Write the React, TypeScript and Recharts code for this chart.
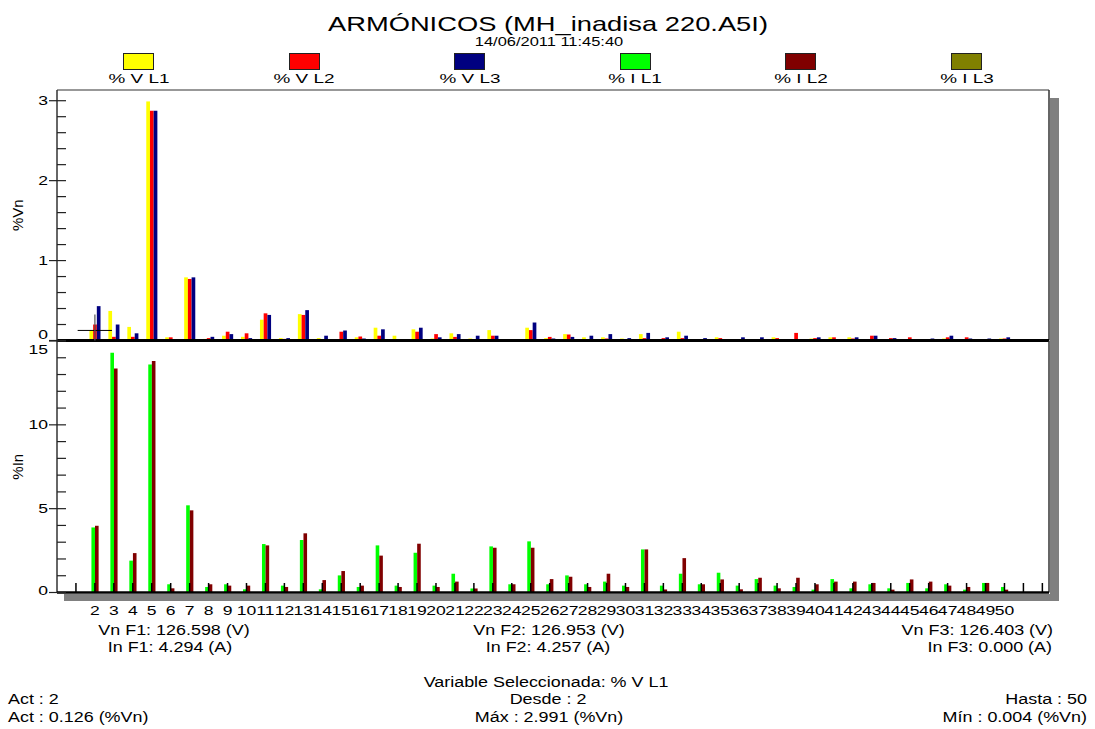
import { BarChart, Bar, XAxis, YAxis, ReferenceLine } from "recharts";

// harmonic orders shown on the x axis
const harmonics = [
  2, 3, 4, 5, 6, 7, 8, 9, 10, 11, 12, 13, 14, 15, 16, 17, 18, 19, 20, 21, 22, 23, 24, 25, 26,
  27, 28, 29, 30, 31, 32, 33, 34, 35, 36, 37, 38, 39, 40, 41, 42, 43, 44, 45, 46, 47, 48, 49, 50,
];
// axis slots: one empty slot before 2 and two after 50
const xSlots = [1, ...harmonics, 51, 52];

// voltage harmonics, % of Vn
const vL1 = [
  0.126, 0.37, 0.17, 2.991, 0.04, 0.79, 0.02, 0.06, 0.046, 0.26, 0.03, 0.33, 0.03, 0.004, 0.04,
  0.16, 0.06, 0.14, 0.025, 0.09, 0.025, 0.13, 0.01, 0.16, 0.03, 0.08, 0.04, 0.04, 0.025, 0.08,
  0.01, 0.11, 0.005, 0.04, 0.01, 0.01, 0.04, 0.01, 0.025, 0.04, 0.04, 0.01, 0.005, 0.01, 0.01,
  0.025, 0.01, 0.01, 0.025,
];
const vL2 = [
  0.2, 0.046, 0.046, 2.875, 0.04, 0.77, 0.03, 0.11, 0.09, 0.34, 0.02, 0.32, 0.01, 0.11, 0.05,
  0.06, 0.01, 0.11, 0.08, 0.045, 0.01, 0.06, 0.005, 0.13, 0.045, 0.075, 0.01, 0.025, 0.01, 0.03,
  0.03, 0.03, 0.005, 0.03, 0.01, 0.005, 0.03, 0.095, 0.03, 0.04, 0.025, 0.06, 0.03, 0.04, 0.005,
  0.04, 0.04, 0.005, 0.025,
];
const vL3 = [
  0.43, 0.2, 0.09, 2.875, 0.01, 0.79, 0.046, 0.08, 0.03, 0.32, 0.03, 0.38, 0.06, 0.125, 0.025,
  0.14, 0.01, 0.16, 0.04, 0.08, 0.06, 0.06, 0.01, 0.225, 0.025, 0.045, 0.06, 0.08, 0.03, 0.095,
  0.04, 0.06, 0.03, 0.01, 0.04, 0.04, 0.01, 0.01, 0.04, 0.01, 0.04, 0.06, 0.03, 0.01, 0.025,
  0.06, 0.025, 0.025, 0.04,
];

// current harmonics, % of In
const iL1 = [
  3.88, 14.3, 1.9, 13.6, 0.49, 5.2, 0.33, 0.49, 0.19, 2.89, 0.41, 3.13, 0.19, 1.02, 0.33, 2.81,
  0.41, 2.37, 0.41, 1.12, 0.24, 2.75, 0.49, 3.05, 0.49, 1.02, 0.49, 0.65, 0.41, 2.57, 0.41, 1.12,
  0.49, 1.18, 0.41, 0.8, 0.41, 0.33, 0.17, 0.8, 0.25, 0.49, 0.25, 0.57, 0.25, 0.49, 0.17, 0.57,
  0.33,
];
const iL2 = [
  3.98, 13.36, 2.35, 13.8, 0.25, 4.9, 0.49, 0.41, 0.41, 2.81, 0.33, 3.53, 0.74, 1.28, 0.41, 2.2,
  0.33, 2.91, 0.33, 0.65, 0.24, 2.67, 0.49, 2.67, 0.8, 0.94, 0.33, 1.12, 0.33, 2.57, 0.18, 2.05,
  0.49, 0.78, 0.19, 0.88, 0.25, 0.88, 0.49, 0.65, 0.65, 0.57, 0.17, 0.78, 0.65, 0.41, 0.33, 0.57,
  0.17,
];

const vTicks = [0, 0.2, 0.4, 0.6, 0.8, 1, 1.2, 1.4, 1.6, 1.8, 2, 2.2, 2.4, 2.6, 2.8, 3];
const iTicks = [0, 1, 2, 3, 4, 5, 6, 7, 8, 9, 10, 11, 12, 13, 14, 15];

const series = [
  { name: "% V L1", color: "#ffff00" },
  { name: "% V L2", color: "#ff0000" },
  { name: "% V L3", color: "#000080" },
  { name: "% I L1", color: "#00ff00" },
  { name: "% I L2", color: "#800000" },
  { name: "% I L3", color: "#808000" },
];

// cursor on the selected variable
const cursorHarmonic = 2;
const cursorValue = 0.126;

const topData = harmonics.map((h, i) => ({ h, vL1: vL1[i], vL2: vL2[i], vL3: vL3[i] }));
const bottomData = harmonics.map((h, i) => ({ h, iL1: iL1[i], iL2: iL2[i] }));

const FONT = '"Liberation Sans", Arial, sans-serif';
const SX = 1.35;
const X_MAX = 52.35;
const V_MAX = 3.134;
const PLOT_LEFT = 57;
const BOTTOM_TOP = 300; // page offset of the lower chart

function Txt({ x, y, align = "center", size = 14, sx = 1.28, children }: any) {
  const tx = align === "left" ? "0" : align === "right" ? "-100%" : "-50%";
  return (
    <div
      style={{
        position: "absolute",
        left: x,
        top: y,
        transform: `translate(${tx}, -50%) scaleX(${sx})`,
        transformOrigin: align,
        whiteSpace: "nowrap",
        fontSize: size,
        lineHeight: 1,
        fontFamily: FONT,
        color: "#000",
      }}
    >
      {children}
    </div>
  );
}

const makeYTick =
  (step: number, shift: Record<number, number>) =>
  ({ y, payload }: any) => {
    const v = payload.value;
    const major = Math.abs(v / step - Math.round(v / step)) < 1e-6;
    return (
      <g>
        <line
          x1={major ? PLOT_LEFT - 8 : PLOT_LEFT}
          x2={PLOT_LEFT + 9}
          y1={y}
          y2={y}
          stroke="#222"
          strokeWidth={1.2}
        />
        {major && (
          <text
            transform={`translate(${PLOT_LEFT - 9},${y + (shift[v] ?? 0)}) scale(${SX},1)`}
            textAnchor="end"
            dominantBaseline="central"
            fontSize={13}
            fontFamily={FONT}
            fill="#000"
          >
            {v}
          </text>
        )}
      </g>
    );
  };

const HarmonicTick = ({ x, payload }: any) => {
  const v = payload.value;
  return (
    <g>
      <line x1={x} x2={x} y1={283} y2={292.5} stroke="#000" strokeWidth={1.5} />
      {harmonics.includes(v) && (
        <text
          transform={`translate(${x},310) scale(${SX},1)`}
          textAnchor="middle"
          dominantBaseline="central"
          fontSize={13}
          fontFamily={FONT}
          fill="#000"
        >
          {v}
        </text>
      )}
    </g>
  );
};

export default function App() {
  return (
    <div
      style={{
        position: "absolute",
        left: 0,
        top: 0,
        width: 1095,
        height: 729,
        background: "#fff",
        overflow: "hidden",
        fontFamily: FONT,
      }}
    >
      <Txt x={548} y={23} size={21} sx={1.3}>
        ARMÓNICOS (MH_inadisa 220.A5I)
      </Txt>
      <Txt x={549} y={42} size={12} sx={1.37}>
        14/06/2011 11:45:40
      </Txt>

      {series.map((s, i) => (
        <div key={s.name}>
          <div
            style={{
              position: "absolute",
              left: 138.5 + i * 165.6 - 15.5,
              top: 53,
              width: 29,
              height: 15,
              background: s.color,
              border: "1px solid #222",
            }}
          />
          <Txt x={138.5 + i * 165.6} y={79} size={13.5} sx={1.4}>
            {s.name}
          </Txt>
        </div>
      ))}

      {/* drop shadow of the plot frame */}
      <div style={{ position: "absolute", left: 1050, top: 98, width: 9, height: 503, background: "#808080" }} />
      <div style={{ position: "absolute", left: 64, top: 593.5, width: 995, height: 7.5, background: "#808080" }} />

      <div style={{ position: "absolute", left: 0, top: 0 }}>
        <BarChart
          width={1095}
          height={350}
          data={topData}
          margin={{ top: 90, right: 46, bottom: 9.5, left: 0 }}
          barGap={0}
        >
          <XAxis type="number" dataKey="h" domain={[0, X_MAX]} ticks={xSlots} hide />
          <YAxis
            type="number"
            width={PLOT_LEFT}
            domain={[0, V_MAX]}
            ticks={vTicks}
            interval={0}
            tickLine={false}
            axisLine={{ stroke: "#333", strokeWidth: 1.5 }}
            tick={makeYTick(1, { 0: -6 })}
            label={{
              value: "%Vn",
              angle: -90,
              position: "insideLeft",
              offset: 18,
              style: { textAnchor: "middle", fontSize: 15, fill: "#000", fontFamily: FONT },
            }}
          />
          <Bar dataKey="vL1" fill={series[0].color} barSize={3.7} isAnimationActive={false} />
          <Bar dataKey="vL2" fill={series[1].color} barSize={3.7} isAnimationActive={false} />
          <Bar dataKey="vL3" fill={series[2].color} barSize={3.7} isAnimationActive={false} />
          <ReferenceLine y={V_MAX} stroke="#333" strokeWidth={1.2} />
          <ReferenceLine x={X_MAX} stroke="#333" strokeWidth={1.5} />
          <ReferenceLine y={0} stroke="#000" strokeWidth={3} />
          <ReferenceLine
            segment={[
              { x: cursorHarmonic - 0.91, y: cursorValue },
              { x: cursorHarmonic + 0.9, y: cursorValue },
            ]}
            stroke="#000"
            strokeWidth={1}
          />
          <ReferenceLine
            segment={[
              { x: cursorHarmonic, y: 0 },
              { x: cursorHarmonic, y: 0.325 },
            ]}
            stroke="#555"
            strokeWidth={1.2}
          />
        </BarChart>
      </div>

      <div style={{ position: "absolute", left: 0, top: BOTTOM_TOP }}>
        <BarChart
          width={1095}
          height={340}
          data={bottomData}
          margin={{ top: 41, right: 46, bottom: 17.5, left: 0 }}
          barGap={0}
        >
          <YAxis
            type="number"
            width={PLOT_LEFT}
            domain={[0, 15]}
            ticks={iTicks}
            interval={0}
            tickLine={false}
            axisLine={{ stroke: "#333", strokeWidth: 1.5 }}
            tick={makeYTick(5, { 15: 8, 0: -2 })}
            label={{
              value: "%In",
              angle: -90,
              position: "insideLeft",
              offset: 18,
              style: { textAnchor: "middle", fontSize: 15, fill: "#000", fontFamily: FONT },
            }}
          />
          <Bar dataKey="iL1" fill={series[3].color} barSize={3.6} isAnimationActive={false} />
          <Bar dataKey="iL2" fill={series[4].color} barSize={3.6} isAnimationActive={false} />
          <ReferenceLine x={X_MAX} stroke="#333" strokeWidth={1.5} />
          <XAxis
            type="number"
            dataKey="h"
            domain={[0, X_MAX]}
            ticks={xSlots}
            interval={0}
            height={30}
            tickLine={false}
            axisLine={{ stroke: "#000", strokeWidth: 2.5 }}
            tick={<HarmonicTick />}
          />
        </BarChart>
      </div>

      <Txt x={174} y={630}>Vn F1: 126.598 (V)</Txt>
      <Txt x={170} y={647}>In F1: 4.294 (A)</Txt>
      <Txt x={549} y={630}>Vn F2: 126.953 (V)</Txt>
      <Txt x={548} y={647}>In F2: 4.257 (A)</Txt>
      <Txt x={1053} y={630} align="right">Vn F3: 126.403 (V)</Txt>
      <Txt x={1052} y={647} align="right">In F3: 0.000 (A)</Txt>

      <Txt x={546} y={682}>Variable Seleccionada: % V L1</Txt>
      <Txt x={8} y={699} align="left">Act : 2</Txt>
      <Txt x={548} y={699}>Desde : 2</Txt>
      <Txt x={1087} y={699} align="right">Hasta : 50</Txt>
      <Txt x={8} y={717} align="left">Act : 0.126 (%Vn)</Txt>
      <Txt x={549} y={717}>Máx : 2.991 (%Vn)</Txt>
      <Txt x={1087} y={717} align="right">Mín : 0.004 (%Vn)</Txt>
    </div>
  );
}
